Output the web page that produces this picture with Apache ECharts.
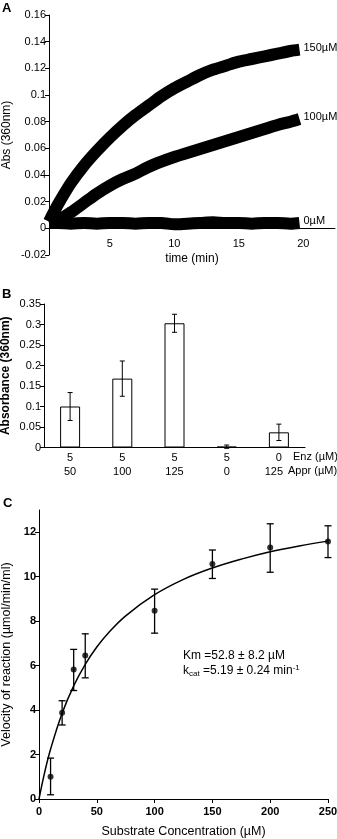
<!DOCTYPE html>
<html>
<head>
<meta charset="utf-8">
<script src="https://cdn.jsdelivr.net/npm/echarts@6/dist/echarts.min.js"></script>
<style>
	html, body { margin: 0; padding: 0; background: #fff; }
	#chart { width: 337px; height: 839px; }
</style>
</head>
<body>
<div id="chart"></div>
<script>
// panel A: absorbance time courses (sampled along the centre of each band)
var timeMin = [0.3, 1, 2, 3, 4, 5, 6, 7, 8, 9, 10, 11, 12, 13, 14, 15, 16, 17, 18, 19, 19.7];
var abs150 = [0.005, 0.018, 0.034, 0.047, 0.058, 0.068, 0.077, 0.085, 0.092, 0.099, 0.105, 0.110, 0.115, 0.119, 0.122, 0.125, 0.127, 0.129, 0.131, 0.133, 0.134];
var abs100 = [0.004, 0.006, 0.012, 0.019, 0.026, 0.032, 0.037, 0.041, 0.046, 0.050, 0.0535, 0.0565, 0.0595, 0.0625, 0.0655, 0.0685, 0.0715, 0.0745, 0.0775, 0.080, 0.082];
var abs0 = [0.004, 0.004, 0.0035, 0.004, 0.0035, 0.004, 0.004, 0.0035, 0.004, 0.004, 0.003, 0.0035, 0.004, 0.0045, 0.004, 0.004, 0.0035, 0.004, 0.004, 0.0035, 0.004];
var timeTicks = [5, 10, 15, 20];

// panel B: end-point absorbance
var enzConc = ['5', '5', '5', '5', '0'];
var apprConc = ['50', '100', '125', '0', '125'];
var absB = [0.1, 0.168, 0.303, 0.002, 0.037];
var errB = [0.034, 0.043, 0.022, 0.004, 0.02];

// panel C: Michaelis-Menten
var substrate = [10, 20, 30, 40, 100, 150, 200, 250];
var velocity = [1.0, 3.88, 5.82, 6.45, 8.47, 10.57, 11.31, 11.58];
var velLow = [0.19, 3.33, 4.88, 5.45, 7.46, 9.92, 10.2, 10.86];
var velHigh = [1.84, 4.42, 6.73, 7.43, 9.44, 11.2, 12.38, 12.29];
var fitS = [0, 5, 10, 20, 30, 40, 50, 60, 75, 100, 125, 150, 175, 200, 225, 250];
var fitV = [0, 1.22, 2.24, 3.86, 5.09, 6.06, 6.84, 7.47, 8.24, 9.19, 9.88, 10.39, 10.79, 11.12, 11.38, 11.6];
var velTicks = [0, 2, 4, 6, 8, 10, 12];

var FONT = '"Liberation Sans", Arial, Helvetica, sans-serif';

function pairs(xs, ys) {
	var out = [];
	for (var i = 0; i < xs.length; i++) {
		out.push([xs[i], ys[i]]);
	}
	return out;
}

//error bar with caps
function errorBar(capHalf, width) {
	return function(params, api) {
		var x = api.value(0);
		var lo = api.coord([x, api.value(1)]);
		var hi = api.coord([x, api.value(2)]);
		var style = { stroke: '#000', lineWidth: width };
		return {
			type : 'group',
			children : [
				{ type: 'line', shape: { x1: lo[0], y1: lo[1], x2: hi[0], y2: hi[1] }, style: style },
				{ type: 'line', shape: { x1: lo[0] - capHalf, y1: lo[1], x2: lo[0] + capHalf, y2: lo[1] }, style: style },
				{ type: 'line', shape: { x1: hi[0] - capHalf, y1: hi[1], x2: hi[0] + capHalf, y2: hi[1] }, style: style }
			]
		};
	};
}

var errDataB = [];
for (var i = 0; i < absB.length; i++) {
	errDataB.push([i, absB[i] - errB[i], absB[i] + errB[i]]);
}
var errDataC = [];
for (var j = 0; j < substrate.length; j++) {
	errDataC.push([substrate[j], velLow[j], velHigh[j]]);
}

var axisLineBlack = { show: true, lineStyle: { color: '#000', width: 1 } };
var tickBlack = { show: true, length: 4, lineStyle: { color: '#000', width: 1 } };

function band(name, data, label) {
	return {
		name : name,
		type : 'line',
		xAxisIndex : 0,
		yAxisIndex : 0,
		data : data,
		smooth : 0.3,
		showSymbol : false,
		lineStyle : { color: '#000', width: 12, cap: 'butt', join: 'round' },
		endLabel : {
			show : true,
			formatter : label,
			distance : 4,
			offset : [0, -2],
			fontSize : 11,
			fontFamily : FONT,
			color : '#000'
		},
		silent : true
	};
}

var charts = echarts.init(document.getElementById('chart'));
var option = {
	animation : false,
	backgroundColor : '#fff',
	textStyle : { fontFamily: FONT, color: '#000' },
	grid : [
		{ left: 49, top: 15, width: 286, height: 240, outerBoundsMode: 'none', containLabel: false },
		{ left: 44, top: 304, width: 261, height: 143.5, outerBoundsMode: 'none', containLabel: false },
		{ left: 39, top: 510, width: 289, height: 289, outerBoundsMode: 'none', containLabel: false }
	],
	xAxis : [
		{
			gridIndex : 0,
			type : 'value',
			min : 0.3,
			max : 22.45,
			axisLine : { show: true, onZero: true, lineStyle: { color: '#000', width: 1 } },
			axisTick : { show: false },
			splitLine : { show: false },
			axisLabel : { customValues: timeTicks, fontSize: 11, color: '#000', margin: -17 },
			name : 'time (min)',
			nameLocation : 'middle',
			nameGap : -2,
			nameMoveOverlap : false,
			nameTextStyle : { fontSize: 12, color: '#000' }
		},
		{
			gridIndex : 1,
			type : 'category',
			data : enzConc,
			axisLine : axisLineBlack,
			axisTick : { show: false },
			axisLabel : {
				interval : 0,
				fontSize : 11,
				lineHeight : 14,
				margin : 3,
				color : '#000',
				formatter : function(value, index) {
					if (index === enzConc.length - 1) {
						return '{a|' + value + '}\n{b|' + apprConc[index] + '}';
					}
					return value + '\n' + apprConc[index];
				},
				rich : {
					a : { fontSize: 11, lineHeight: 14 },
					b : { fontSize: 11, lineHeight: 14, padding: [0, 10, 0, 0] }
				}
			}
		},
		{
			gridIndex : 2,
			type : 'value',
			min : 0,
			max : 250,
			interval : 50,
			axisLine : axisLineBlack,
			axisTick : tickBlack,
			splitLine : { show: false },
			axisLabel : { fontSize: 11, fontWeight: 'bold', color: '#000', margin: 7 },
			name : 'Substrate Concentration (\u00b5M)',
			nameLocation : 'middle',
			nameGap : 26,
			nameMoveOverlap : false,
			nameTextStyle : { fontSize: 12.5, color: '#000' }
		}
	],
	yAxis : [
		{
			gridIndex : 0,
			type : 'value',
			min : -0.02,
			max : 0.16,
			interval : 0.02,
			axisLine : axisLineBlack,
			axisTick : tickBlack,
			splitLine : { show: false },
			axisLabel : { fontSize: 11, color: '#000', margin: 3 },
			name : 'Abs (360nm)',
			nameLocation : 'middle',
			nameGap : 36,
			nameMoveOverlap : false,
			nameTextStyle : { fontSize: 12, color: '#000' }
		},
		{
			gridIndex : 1,
			type : 'value',
			min : 0,
			max : 0.35,
			interval : 0.05,
			axisLine : axisLineBlack,
			axisTick : tickBlack,
			splitLine : { show: false },
			axisLabel : { fontSize: 11, color: '#000', margin: 3 },
			name : 'Absorbance (360nm)',
			nameLocation : 'middle',
			nameGap : 32,
			nameMoveOverlap : false,
			nameTextStyle : { fontSize: 12, fontWeight: 'bold', color: '#000' }
		},
		{
			gridIndex : 2,
			type : 'value',
			min : 0,
			max : 13,
			axisLine : axisLineBlack,
			axisTick : { show: true, length: 4, customValues: velTicks, lineStyle: { color: '#000' } },
			splitLine : { show: false },
			axisLabel : { customValues: velTicks, fontSize: 11, fontWeight: 'bold', color: '#000', margin: 3 },
			name : 'Velocity of reaction (\u00b5mol/min/ml)',
			nameLocation : 'middle',
			nameGap : 26,
			nameMoveOverlap : false,
			nameTextStyle : { fontSize: 12.5, color: '#000' }
		}
	],
	series : [
		band('150', pairs(timeMin, abs150), '150\u00b5M'),
		band('100', pairs(timeMin, abs100), '100\u00b5M'),
		band('0', pairs(timeMin, abs0), '0\u00b5M'),
		{
			type : 'bar',
			xAxisIndex : 1,
			yAxisIndex : 1,
			data : absB,
			barWidth : 20,
			itemStyle : { color: '#fff', borderColor: '#000', borderWidth: 1 }
		},
		{
			type : 'custom',
			xAxisIndex : 1,
			yAxisIndex : 1,
			data : errDataB,
			encode : { x: 0, y: [1, 2] },
			renderItem : errorBar(2.5, 1),
			z : 5
		},
		{
			type : 'line',
			xAxisIndex : 2,
			yAxisIndex : 2,
			data : pairs(fitS, fitV),
			smooth : 0.4,
			showSymbol : false,
			lineStyle : { color: '#000', width: 1.5 }
		},
		{
			type : 'custom',
			xAxisIndex : 2,
			yAxisIndex : 2,
			data : errDataC,
			encode : { x: 0, y: [1, 2] },
			renderItem : errorBar(3.5, 1.3),
			z : 5
		},
		{
			type : 'scatter',
			xAxisIndex : 2,
			yAxisIndex : 2,
			data : pairs(substrate, velocity),
			symbolSize : 6,
			itemStyle : { color: '#000' },
			z : 6
		}
	],
	graphic : [
		{ type: 'text', left: 2, top: 2, style: { text: 'A', font: 'bold 13px ' + FONT, fill: '#000' } },
		{ type: 'text', left: 2, top: 288, style: { text: 'B', font: 'bold 13px ' + FONT, fill: '#000' } },
		{ type: 'text', left: 3, top: 497, style: { text: 'C', font: 'bold 13px ' + FONT, fill: '#000' } },
		{ type: 'text', left: 293, top: 451, style: { text: 'Enz (\u00b5M)', font: '11px ' + FONT, fill: '#000' } },
		{ type: 'text', left: 288, top: 465, style: { text: 'Appr (\u00b5M)', font: '11px ' + FONT, fill: '#000' } },
		{ type: 'text', left: 183, top: 650, style: { text: 'Km =52.8 \u00b1 8.2 \u00b5M', font: '12px ' + FONT, fill: '#000' } },
		{
			type : 'text',
			left : 183,
			top : 664,
			style : {
				text : 'k{sub|cat} =5.19 \u00b1 0.24 min{sup|-1}',
				font : '12px ' + FONT,
				fill : '#000',
				rich : {
					sub : { fontSize: 8, fontFamily: FONT, verticalAlign: 'bottom', padding: [6, 0, 0, 0] },
					sup : { fontSize: 8, fontFamily: FONT, verticalAlign: 'top', padding: [0, 0, 6, 0] }
				}
			}
		}
	]
};
charts.setOption(option);
</script>
</body>
</html>
